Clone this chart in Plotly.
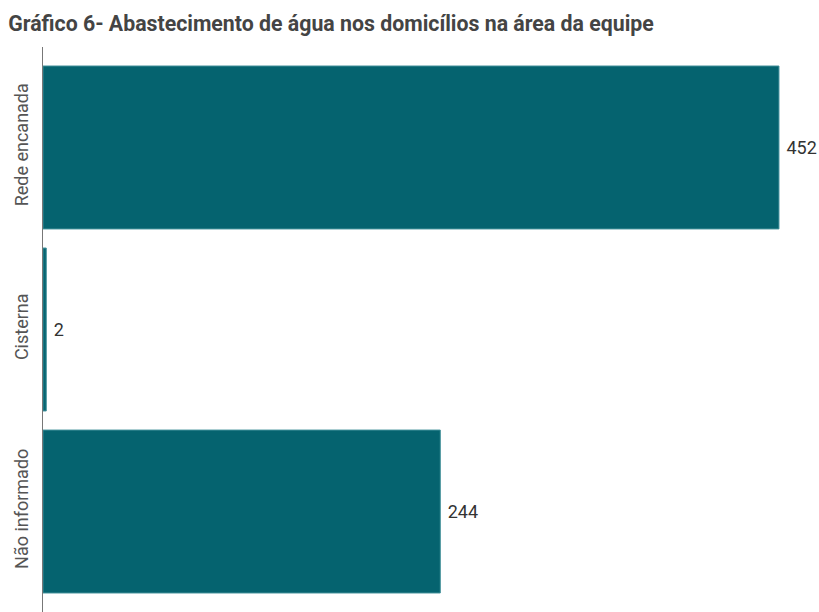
import plotly.graph_objects as go

categories = ["Rede encanada", "Cisterna", "Não informado"]
values = [452, 2, 244]
title_text = "Gráfico 6- Abastecimento de água nos domicílios na área da equipe"

fig = go.Figure(go.Bar(
    x=values, y=categories, orientation="h",
    marker=dict(color="#05636F", line=dict(color="#3F8E98", width=1)),
    text=[" " + str(v) for v in values], textposition="outside",
    textfont=dict(family="Roboto", size=18, color="#333333"),
    cliponaxis=False,
))

fig.update_layout(
    width=819, height=612,
    margin=dict(l=43, r=0, t=47, b=0),
    paper_bgcolor="white", plot_bgcolor="white",
    bargap=0.105,
    showlegend=False,
    title=dict(text="<b>" + title_text + "</b>", x=0.01, xanchor="left",
               y=0.962, yanchor="middle",
               font=dict(family="Roboto", size=21.3, color="#444444")),
    font=dict(family="Roboto"),
)
fig.update_xaxes(range=[0, 476.6], visible=False, showgrid=False, zeroline=False)
fig.update_yaxes(
    categoryorder="array", categoryarray=categories,
    range=[2.552, -0.552], showgrid=False, zeroline=False,
    showline=True, linecolor="#777777", linewidth=1,
    tickangle=-90, ticks="", ticklabelstandoff=7,
    tickfont=dict(family="Roboto", size=18, color="#555555"),
)

fig.write_html("out.html")
